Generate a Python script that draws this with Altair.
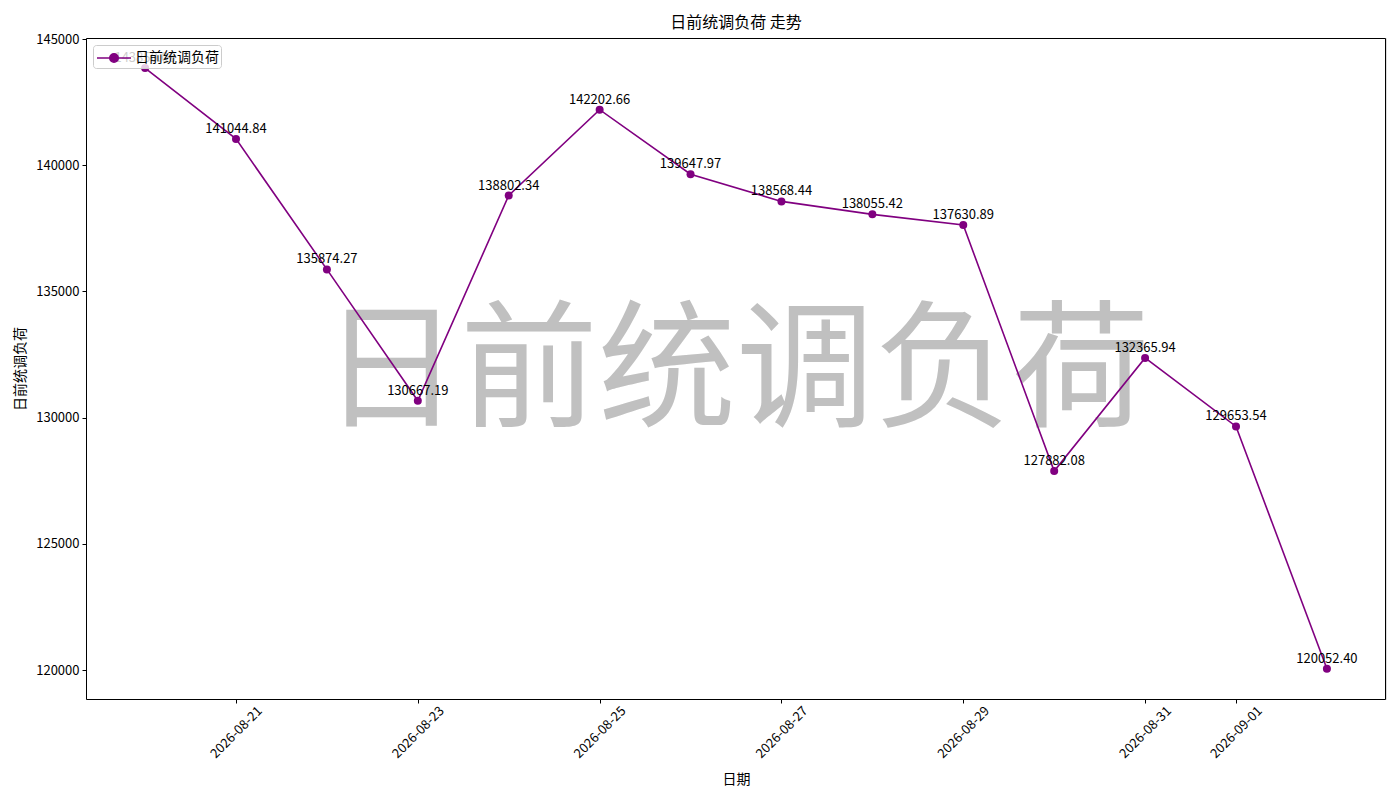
import altair as alt
import pandas as pd

dates = ["2026-08-20", "2026-08-21", "2026-08-22", "2026-08-23", "2026-08-24",
         "2026-08-25", "2026-08-26", "2026-08-27", "2026-08-28", "2026-08-29",
         "2026-08-30", "2026-08-31", "2026-09-01", "2026-09-02"]
values = [143850.00, 141044.84, 135874.27, 130667.19, 138802.34,
          142202.66, 139647.97, 138568.44, 138055.42, 137630.89,
          127882.08, 132365.94, 129653.54, 120052.40]
tick_dates = ["2026-08-21", "2026-08-23", "2026-08-25", "2026-08-27",
              "2026-08-29", "2026-08-31", "2026-09-01"]
y_ticks = [120000, 125000, 130000, 135000, 140000, 145000]
series_name = "日前统调负荷"
title_text = "日前统调负荷 走势"
watermark = "日前统调负荷"

FONT = "Noto Sans CJK SC"
W, H = 1300, 661

df = pd.DataFrame({"date": dates, "value": values, "series": series_name})


def dt(s, hours=0, minutes=0):
    y, m, d = (int(p) for p in s.split("-"))
    return alt.DateTime(year=y, month=m, date=d, hours=hours, minutes=minutes, utc=True)


x_enc = alt.X(
    "date:T",
    scale=alt.Scale(type="utc", domain=[dt("2026-08-19", 8, 24), dt("2026-09-02", 15, 36)]),
    axis=alt.Axis(
        values=[dt(t) for t in tick_dates],
        labelExpr="utcFormat(datum.value, '%Y-%m-%d')",
        labelAngle=-45,
        labelAlign="center",
        labelBaseline="middle",
        title="日期",
        grid=False,
        domain=False,
        tickColor="black",
        labelColor="black",
        titleColor="black",
        labelFontSize=13,
        titleFontSize=14,
        titleFontWeight="normal",
        labelFont=FONT,
        titleFont=FONT,
        tickSize=4,
        labelPadding=29,
        labelOverlap=False,
        titlePadding=12,
    ),
)
y_enc = alt.Y(
    "value:Q",
    scale=alt.Scale(domain=[118853, 145043], nice=False, zero=False),
    axis=alt.Axis(
        values=y_ticks,
        format="d",
        title="日前统调负荷",
        grid=False,
        domain=False,
        tickColor="black",
        labelColor="black",
        titleColor="black",
        labelFontSize=13,
        titleFontSize=14,
        titleFontWeight="normal",
        labelFont=FONT,
        titleFont=FONT,
        tickSize=4,
        labelPadding=3,
        titlePadding=8,
    ),
)

base = alt.Chart(df)

wm = alt.Chart(pd.DataFrame({"t": [watermark]})).mark_text(
    font=FONT, fontSize=138, color="#c0c0c0", align="center", baseline="middle"
).encode(text="t:N", x=alt.value(W / 2), y=alt.value(H / 2 + 6))

frame = alt.Chart(pd.DataFrame({"f": [0]})).mark_rect(
    fill="transparent", stroke="black", strokeWidth=1
).encode(
    x=alt.value(0.5), x2=alt.value(W - 0.5), y=alt.value(0.5), y2=alt.value(H + 0.5)
)

line = base.mark_line(color="purple", strokeWidth=1.6).encode(
    x=x_enc,
    y=y_enc,
    color=alt.Color(
        "series:N",
        scale=alt.Scale(domain=[series_name], range=["purple"]),
        legend=alt.Legend(
            title=None,
            orient="top-left",
            offset=7,
            symbolType="M-1.7,0L1.7,0M-0.42,0A0.42,0.42,0,1,1,0.42,0A0.42,0.42,0,1,1,-0.42,0",
            symbolSize=400,
            symbolOffset=8,
            symbolStrokeWidth=1.6,
            symbolFillColor="purple",
            symbolStrokeColor="purple",
            labelFont=FONT,
            labelFontSize=14,
            labelColor="black",
            labelOffset=10,
            fillColor="rgba(255,255,255,0.8)",
            strokeColor="#cccccc",
            cornerRadius=3,
            padding=2,
        ),
    ),
)

points = base.mark_circle(color="purple", size=64, opacity=1).encode(
    x=x_enc, y=y_enc
)

labels = base.mark_text(
    font=FONT, fontSize=13, color="black", align="center", baseline="bottom", dy=-3
).encode(x=x_enc, y=y_enc, text=alt.Text("value:Q", format=".2f"))

chart = (
    alt.layer(wm, line, points, labels, frame)
    .properties(
        width=W,
        height=H,
        title=alt.Title(title_text, font=FONT, fontSize=16, fontWeight="normal", color="black", offset=2),
    )
    .configure_view(stroke=None)
    .configure(padding={"left": 5, "top": 7, "right": 5, "bottom": 5})
)

chart.save("out.html", embed_options={"renderer": "svg", "actions": False})
